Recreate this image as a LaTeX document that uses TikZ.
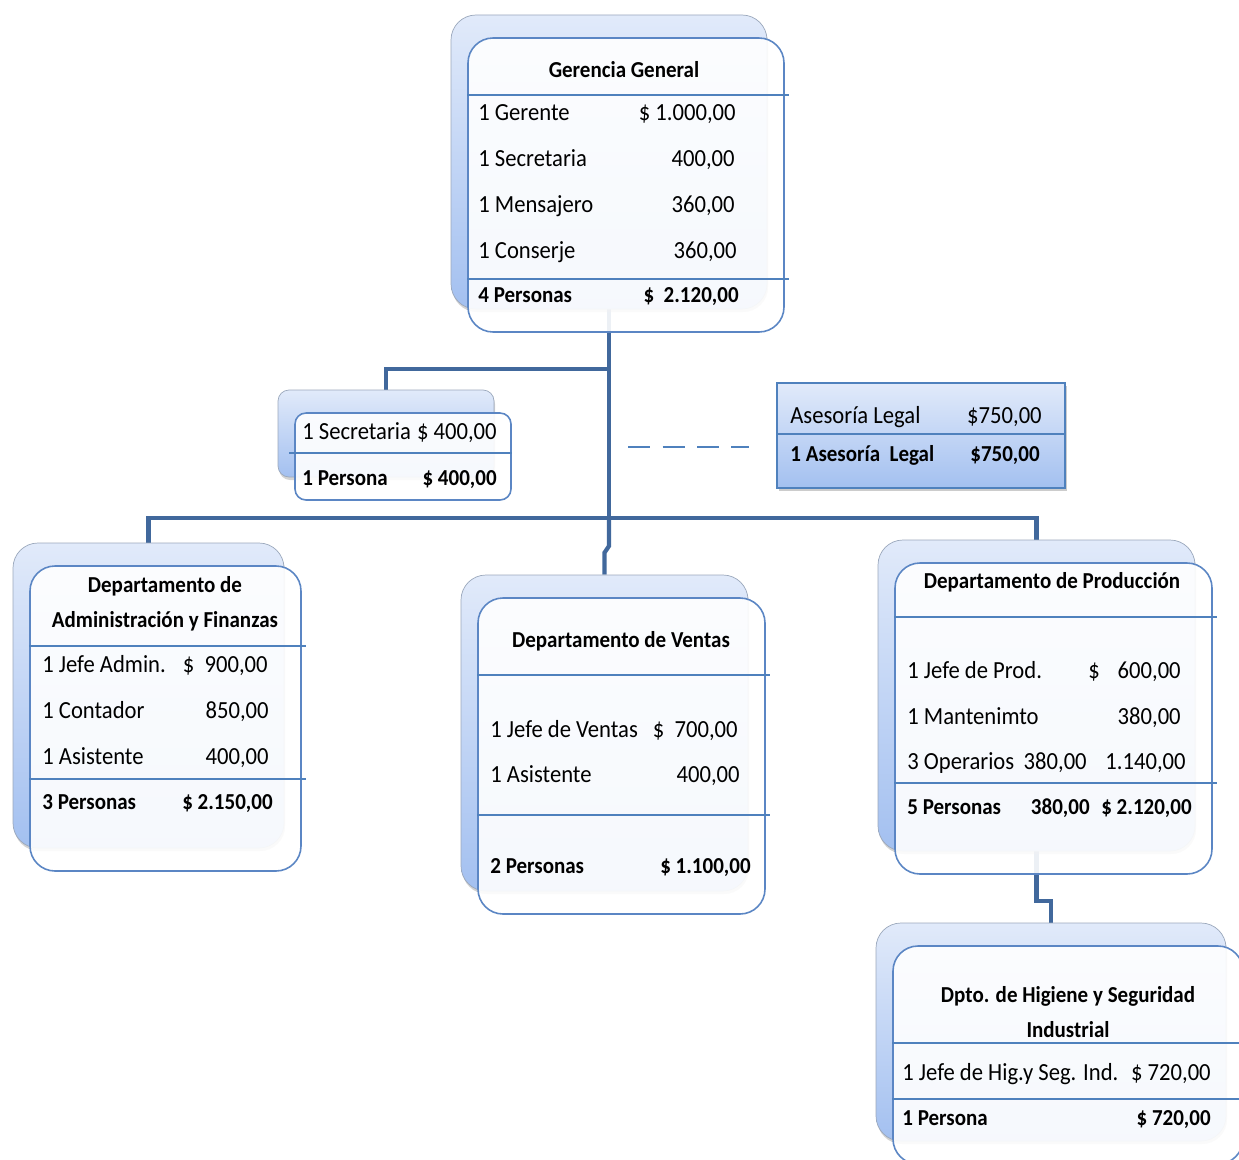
\documentclass[tikz,border=0pt]{standalone}
\usepackage{fontspec}
\setmainfont[FakeStretch=0.92]{Carlito}
\usetikzlibrary{calc,fit,shadows,backgrounds}
\definecolor{LinkBlue}{HTML}{41689C}
\definecolor{RuleBlue}{HTML}{4F81BD}
\definecolor{CardEdge}{HTML}{5B86C4}
\definecolor{CardTop}{HTML}{E1EAFA}
\definecolor{CardBottom}{HTML}{A3C0F0}
\definecolor{BackEdge}{HTML}{9BA8BC}
\newcommand{\cardfont}{\fontsize{13}{19.9}\selectfont}
\newcommand{\rowfont}{\fontsize{14}{16}\selectfont}
% card = shaded back sheet + translucent front sheet (pixel corners of the front)
\newcommand{\orgcard}[6][0.5cm]{%
  \node[backcard, rounded corners=#1, fit={(#3-17,#4-23) (#5-17,#6-23)}] (#2-b) {};
  \node[frontcard, rounded corners=#1, fit={(#3,#4) (#5,#6)}] (#2) {};
}
\newcommand{\cardrule}[2]{%
  \draw[rule] (#1.west |- 0,#2) -- ($(#1.east |- 0,#2)+(4,0)$);
}

\begin{document}
\begin{tikzpicture}[
    x=0.02cm, y=-0.02cm,
    backcard/.style = {rectangle, inner sep=0pt, draw=BackEdge, thin,
      top color=CardTop, bottom color=CardBottom,
      drop shadow={shadow xshift=0.02cm, shadow yshift=-0.06cm, opacity=0.35}},
    frontcard/.style = {rectangle, inner sep=0pt, draw=CardEdge,
      line width=0.9pt, fill=white, fill opacity=0.9},
    staffbox/.style = {rectangle, inner sep=0pt, draw=RuleBlue,
      line width=1pt, top color=CardTop, bottom color=CardBottom,
      drop shadow={shadow xshift=0.03cm, shadow yshift=-0.06cm, opacity=0.4}},
    rule/.style = {draw=RuleBlue, line width=1.1pt},
    link/.style = {draw=LinkBlue, line width=2.4pt},
    staffline/.style = {draw=RuleBlue, line width=1.2pt,
      dash pattern=on 0.44cm off 0.25cm},
    lbl/.style = {anchor=west, inner sep=0pt, font=\rowfont,
      text height=1.7ex, text depth=0pt},
    val/.style = {lbl, anchor=east},
    tot/.style = {lbl, font=\cardfont\bfseries},
    totval/.style = {val, font=\cardfont\bfseries},
    hdr/.style = {align=center, inner sep=0pt, yshift=-0.04cm,
      font=\cardfont\bfseries}
  ]
  \useasboundingbox (0,0) rectangle (1239,1159);

  % cards
  \orgcard{gg}{468}{38}{784}{332}
  \orgcard[0.22cm]{sec}{295}{413}{511}{500}
  \orgcard{adm}{30}{566}{301}{871}
  \orgcard{ven}{478}{598}{765}{914}
  \orgcard{prod}{895}{563}{1212}{874}
  \orgcard{hig}{893}{946}{1243}{1164}
  \node[staffbox, fit={(777,383) (1065,488)}] (ase) {};

  % table rules
  \cardrule{gg}{95}
  \cardrule{gg}{279}
  \draw[rule] ($(sec.west |- 0,453)+(-5,0)$) -- (sec.east |- 0,453);
  \draw[rule] (ase.west |- 0,434) -- (ase.east |- 0,434);
  \cardrule{adm}{646}
  \cardrule{adm}{779}
  \cardrule{ven}{675}
  \cardrule{ven}{815}
  \cardrule{prod}{617}
  \cardrule{prod}{783}
  \cardrule{hig}{1043}
  \cardrule{hig}{1099}

  % Gerencia General
  \node[hdr] (gg-h) at (624,68) {Gerencia General};
  \node[lbl] (gg-1) at (478,113) {1 Gerente};
  \node[val] (gg-1v) at (736,113) {\$ 1.000,00};
  \node[lbl] (gg-2) at (478,159) {1 Secretaria};
  \node[val] (gg-2v) at (735,159) {400,00};
  \node[lbl] (gg-3) at (478,205) {1 Mensajero};
  \node[val] (gg-3v) at (735,205) {360,00};
  \node[lbl] (gg-4) at (478,251) {1 Conserje};
  \node[val] (gg-4v) at (737,251) {360,00};
  \node[tot] (gg-t) at (478,295) {4 Personas};
  \node[totval] (gg-tv) at (739,295) {\$\ \ 2.120,00};

  % Secretaria
  \node[lbl] (sec-1) at (302,432) {1 Secretaria};
  \node[val] (sec-1v) at (497,432) {\$ 400,00};
  \node[tot] (sec-t) at (302,478) {1 Persona};
  \node[totval] (sec-tv) at (497,478) {\$ 400,00};

  % Asesoria Legal
  \node[lbl] (ase-1) at (790,416) {Asesoría Legal};
  \node[val] (ase-1v) at (1042,416) {\$750,00};
  \node[tot] (ase-t) at (790,454) {1 Asesoría\ \ Legal};
  \node[totval] (ase-tv) at (1040,454) {\$750,00};

  % Administracion y Finanzas
  \node[hdr] (adm-h) at (165,602) {Departamento de\\Administración y Finanzas};
  \node[lbl] (adm-1) at (42,665) {1 Jefe Admin.};
  \node[val] (adm-1v) at (268,665) {\$\ \ 900,00};
  \node[lbl] (adm-2) at (42,711) {1 Contador};
  \node[val] (adm-2v) at (269,711) {850,00};
  \node[lbl] (adm-3) at (42,757) {1 Asistente};
  \node[val] (adm-3v) at (269,757) {400,00};
  \node[tot] (adm-t) at (42,802) {3 Personas};
  \node[totval] (adm-tv) at (273,802) {\$ 2.150,00};

  % Ventas
  \node[hdr] (ven-h) at (621,639) {Departamento de Ventas};
  \node[lbl] (ven-1) at (490,730) {1 Jefe de Ventas};
  \node[val] (ven-1v) at (738,730) {\$\ \ 700,00};
  \node[lbl] (ven-2) at (490,775) {1 Asistente};
  \node[val] (ven-2v) at (740,775) {400,00};
  \node[tot] (ven-t) at (490,866) {2 Personas};
  \node[totval] (ven-tv) at (751,866) {\$ 1.100,00};

  % Produccion
  \node[hdr] (prod-h) at (1052,580) {Departamento de Producción};
  \node[lbl] (prod-1) at (907,671) {1 Jefe de Prod.};
  \node[lbl] (prod-1s) at (1088,671) {\$};
  \node[val] (prod-1v) at (1181,671) {600,00};
  \node[lbl] (prod-2) at (907,717) {1 Mantenimto};
  \node[val] (prod-2v) at (1181,717) {380,00};
  \node[lbl] (prod-3) at (907,762) {3 Operarios};
  \node[val] (prod-3u) at (1087,762) {380,00};
  \node[val] (prod-3v) at (1186,762) {1.140,00};
  \node[tot] (prod-t) at (907,807) {5 Personas};
  \node[totval] (prod-tu) at (1090,807) {380,00};
  \node[totval] (prod-tv) at (1192,807) {\$ 2.120,00};

  % Higiene y Seguridad
  \node[hdr] (hig-h) at (1068,1010) {Dpto. de Higiene y Seguridad\\Industrial};
  \node[lbl] (hig-1) at (902,1073) {1 Jefe de Hig.y Seg. Ind.};
  \node[val] (hig-1v) at (1211,1073) {\$ 720,00};
  \node[tot] (hig-t) at (902,1118) {1 Persona};
  \node[totval] (hig-tv) at (1211,1118) {\$ 720,00};

  % staff line to Asesoria
  \coordinate (staff) at (628,447);
  \draw[staffline, shorten >=0.54cm] (staff) -- (staff -| ase.west);

  % connectors
  \begin{scope}[on background layer]
    \coordinate (branch) at (gg-b.south |- 0,369);
    \coordinate (bus) at (gg-b.south |- 0,518);
    \draw[link] (gg-b.south) -- (bus);
    \draw[link] (branch) -| (sec-b.north);
    \draw[link] (adm-b.north) |- (bus) -| (prod-b.north);
    \draw[link] (bus) -- ++(0,28) -- ($(ven-b.north)+(0,-22)$) -- (ven-b.north);
    \draw[link] (prod-b.south) -- ++(0,50) -| (hig-b.north);
  \end{scope}
\end{tikzpicture}
\end{document}
